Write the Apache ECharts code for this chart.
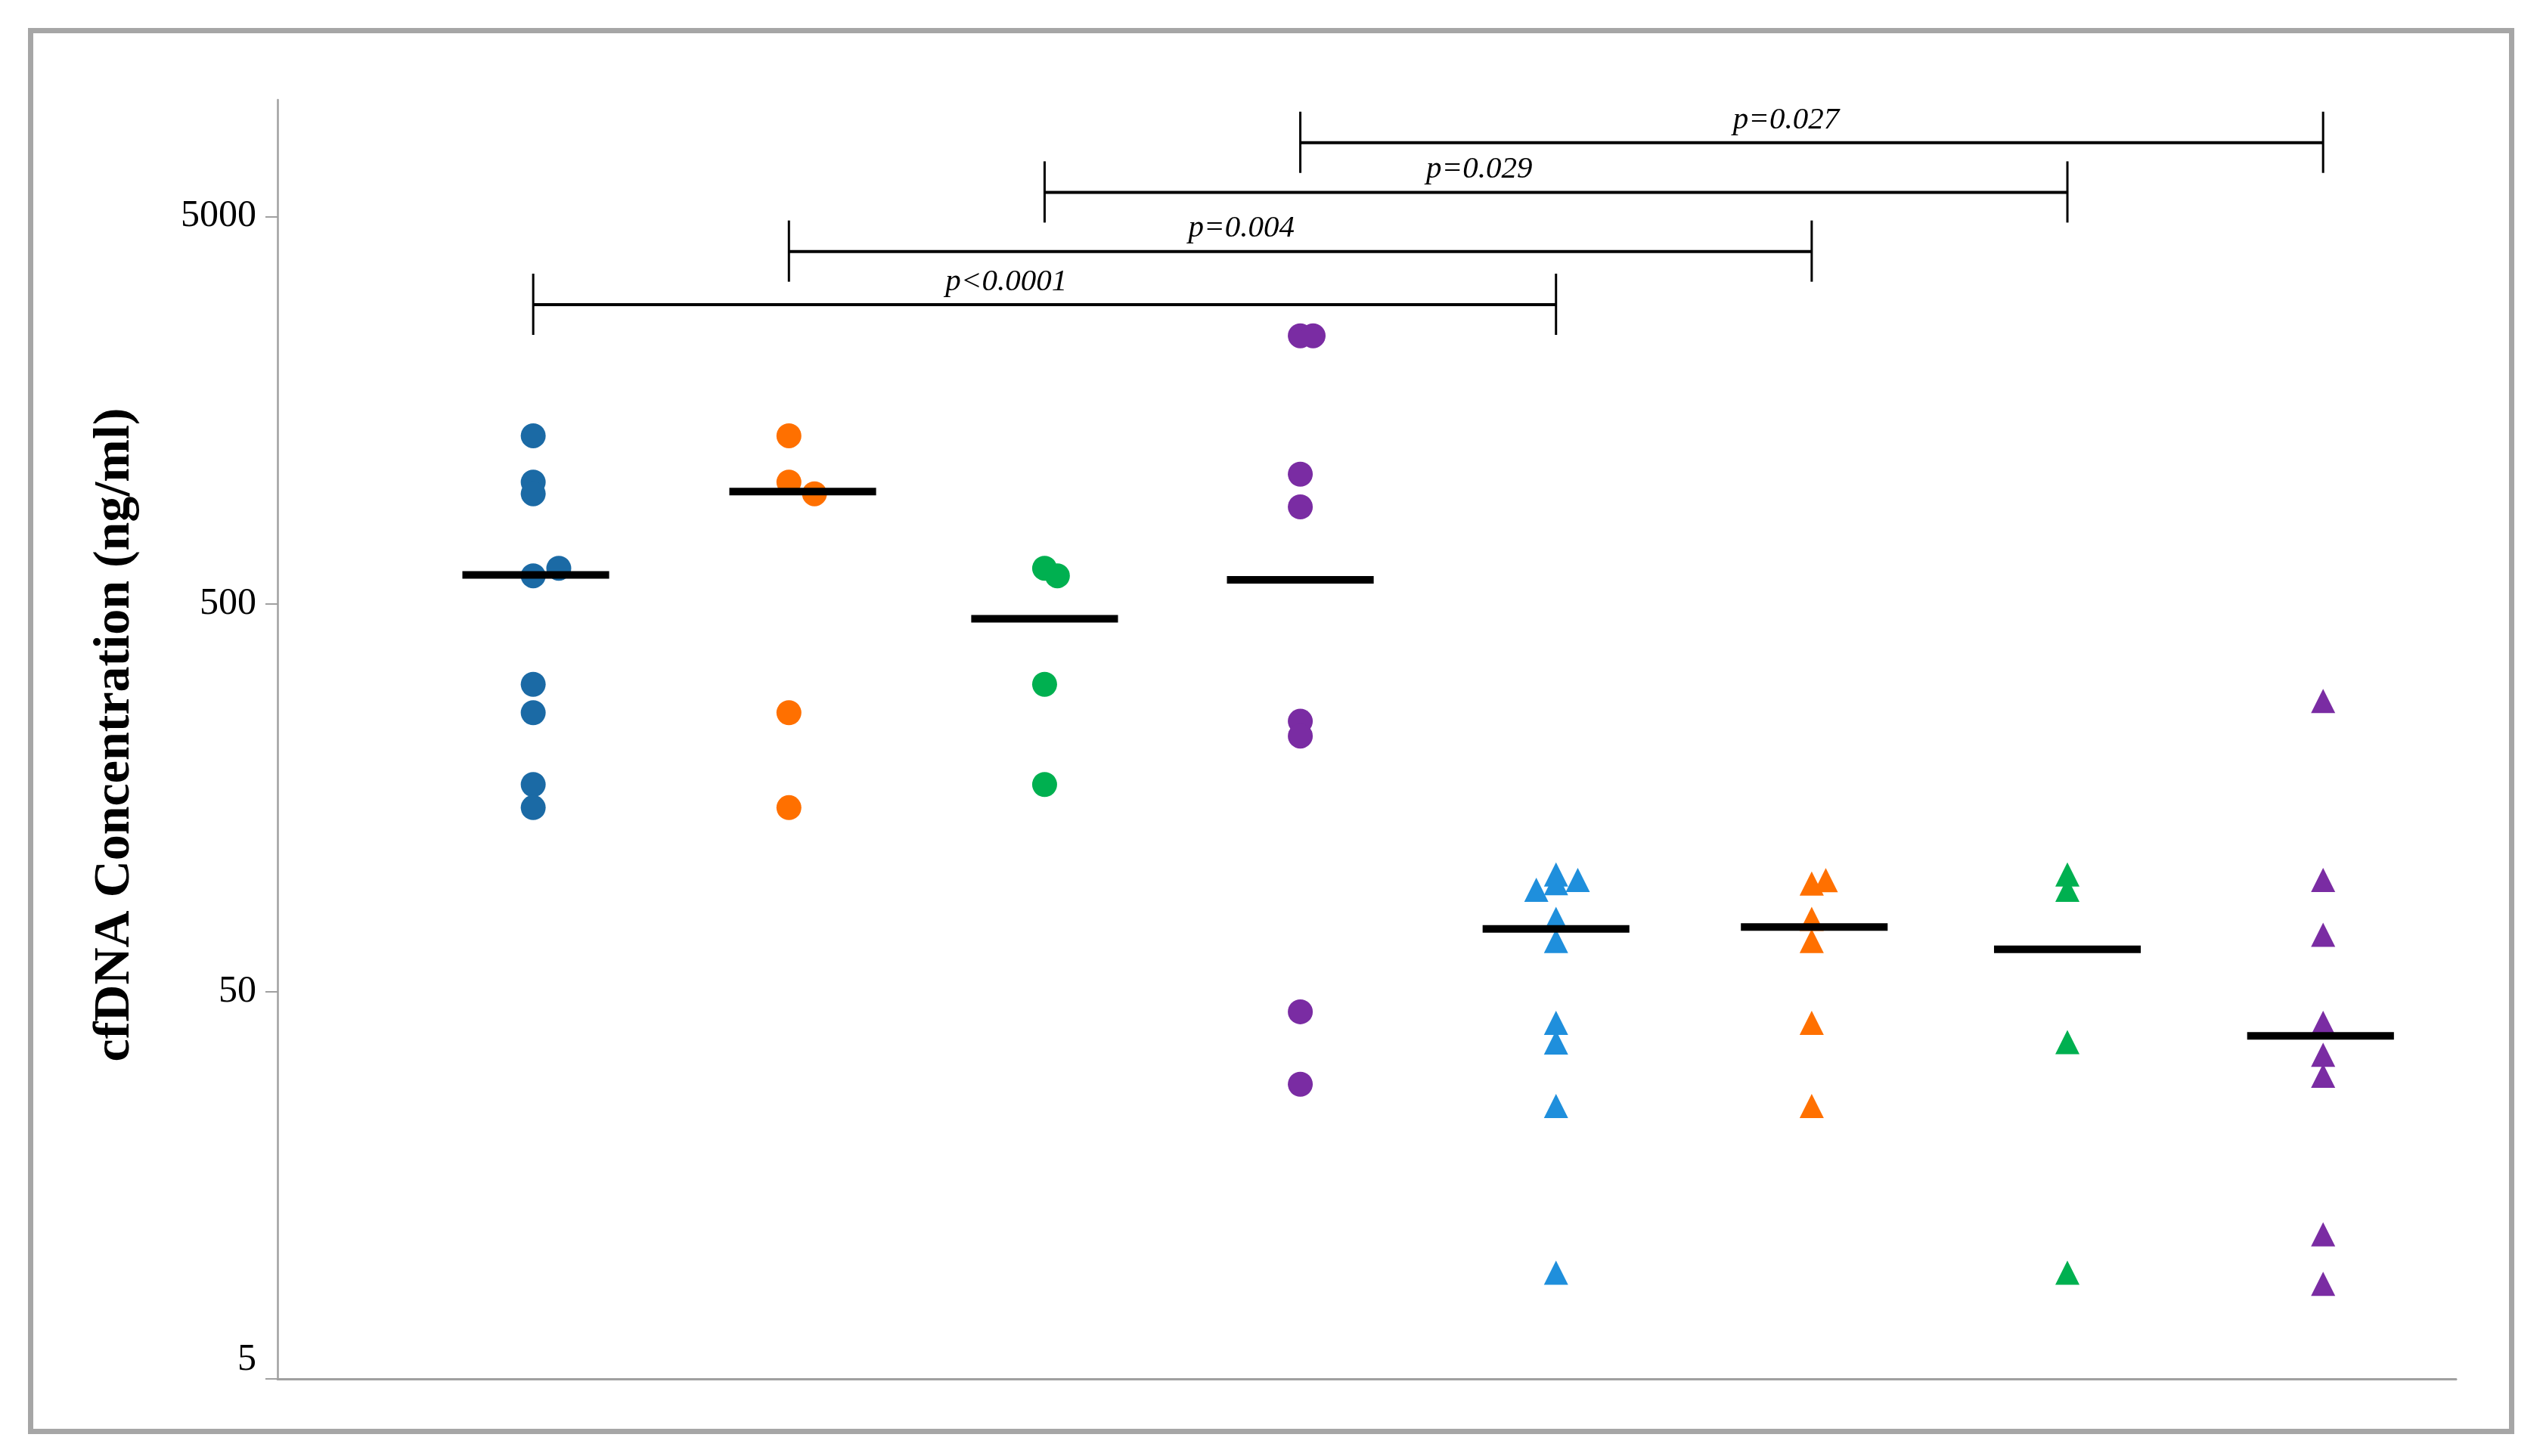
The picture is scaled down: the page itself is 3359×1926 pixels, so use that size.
<!DOCTYPE html>
<html>
<head>
<meta charset="utf-8">
<script src="https://cdn.jsdelivr.net/npm/echarts@6/dist/echarts.min.js"></script>
<style>
html,body{margin:0;padding:0;background:#ffffff;}
#chart{width:3359px;height:1926px;}
</style>
</head>
<body>
<div id="chart"></div>
<script>
// ---------- data ----------
const groupNames = ['Group 1', 'Group 2', 'Group 3', 'Group 4', 'Group 5', 'Group 6', 'Group 7', 'Group 8'];
const groupSymbols = ['circle', 'circle', 'circle', 'circle', 'triangle', 'triangle', 'triangle', 'triangle'];
const groupColors = ['#1b6aa5', '#ff7000', '#00b050', '#7a2ca3', '#1f8fdc', '#ff7000', '#00b050', '#7a2ca3'];

const g1Values = [1358, 1031, 962, 591, 618, 310, 262, 171, 149];
const g1Jitter = [0, 0, 0, 0, 0.1, 0, 0, 0, 0];
const g2Values = [1358, 1031, 962, 262, 149];
const g2Jitter = [0, 0, 0.1, 0, 0];
const g3Values = [618, 591, 310, 171];
const g3Jitter = [0, 0.05, 0, 0];
const g4Values = [2460, 2460, 1081, 890, 249, 228, 44.3, 28.8];
const g4Jitter = [0, 0.05, 0, 0, 0, 0, 0, 0];
const g5Values = [100.2, 95.1, 97.0, 91.5, 76.9, 67.5, 41.5, 36.9, 25.3, 9.4];
const g5Jitter = [0, 0, 0.085, -0.077, 0, 0, 0, 0, 0, 0];
const g6Values = [94.9, 96.8, 76.9, 67.5, 41.5, 25.3];
const g6Jitter = [0, 0.055, 0, 0, 0, 0];
const g7Values = [100.2, 91.5, 37.0, 9.4];
const g7Jitter = [0, 0, 0, 0];
const g8Values = [281, 97, 70, 41.5, 34.3, 30.3, 11.8, 8.8];
const g8Jitter = [0, 0, 0, 0, 0, 0, 0, 0];

const medians = [594, 975, 458, 577, 72.5, 73.3, 64.2, 38.4];
const medianJitter = [0.01, 0.054, 0, 0, 0, 0.01, 0, -0.01];

const yTicks = [5, 50, 500, 5000];

// significance brackets: from group, to group, bracket level (ng/ml), label x (group units), label
const bracketFrom = [0, 1, 2, 3];
const bracketTo = [4, 5, 6, 7];
const bracketLevel = [2960, 4060, 5770, 7750];
const bracketLabelX = [1.85, 2.77, 3.70, 4.90];
const bracketLabels = ['p<0.0001', 'p=0.004', 'p=0.029', 'p=0.027'];

const allValues = [g1Values, g2Values, g3Values, g4Values, g5Values, g6Values, g7Values, g8Values];
const allJitter = [g1Jitter, g2Jitter, g3Jitter, g4Jitter, g5Jitter, g6Jitter, g7Jitter, g8Jitter];

// ---------- chart ----------
const chart = echarts.init(document.getElementById('chart'), null, {renderer: 'canvas'});
const FONT = 'Liberation Serif';

const scatterSeries = groupNames.map(function (name, i) {
  return {
    name: name,
    type: 'scatter',
    symbol: groupSymbols[i],
    symbolSize: groupSymbols[i] === 'circle' ? 33 : 32,
    itemStyle: {color: groupColors[i], opacity: 1},
    z: 2,
    data: allValues[i].map(function (v, k) { return [i + allJitter[i][k], v]; })
  };
});

const medianSeries = {
  name: 'Median',
  type: 'custom',
  z: 5,
  data: medians.map(function (m, i) { return [i + medianJitter[i], m]; }),
  renderItem: function (params, api) {
    const x = api.value(0), y = api.value(1);
    const p0 = api.coord([x - 0.287, y]);
    const p1 = api.coord([x + 0.287, y]);
    return {
      type: 'line',
      shape: {x1: p0[0], y1: p0[1], x2: p1[0], y2: p1[1]},
      style: {stroke: '#000000', lineWidth: 10}
    };
  }
};

const bracketSeries = {
  name: 'Significance',
  type: 'custom',
  z: 6,
  clip: false,
  data: bracketFrom.map(function (f, i) { return [f, bracketTo[i], bracketLevel[i], bracketLabelX[i]]; }),
  renderItem: function (params, api) {
    const a = api.coord([api.value(0), api.value(2)]);
    const b = api.coord([api.value(1), api.value(2)]);
    const t = api.coord([api.value(3), api.value(2)]);
    const up = 41, down = 40;
    const ls = {stroke: '#000000', lineWidth: 3};
    return {
      type: 'group',
      children: [
        {type: 'line', shape: {x1: a[0], y1: a[1], x2: b[0], y2: b[1]}, style: {stroke: '#000000', lineWidth: 4}},
        {type: 'line', shape: {x1: a[0], y1: a[1] - up, x2: a[0], y2: a[1] + down}, style: ls},
        {type: 'line', shape: {x1: b[0], y1: b[1] - up, x2: b[0], y2: b[1] + down}, style: ls},
        {type: 'text', x: t[0], y: t[1] - 30,
          style: {text: bracketLabels[params.dataIndex], fill: '#000000', font: 'italic 41px "' + FONT + '"',
            align: 'center', verticalAlign: 'middle'}}
      ]
    };
  }
};

const option = {
  animation: false,
  backgroundColor: '#ffffff',
  grid: {left: 367, right: 111, top: 132, bottom: 102, containLabel: false},
  xAxis: {
    type: 'value',
    min: -1,
    max: 7.52,
    axisLine: {show: true, onZero: false, lineStyle: {color: '#a0a0a0', width: 3}},
    axisTick: {show: false},
    axisLabel: {show: false},
    splitLine: {show: false}
  },
  yAxis: {
    type: 'log',
    logBase: 10,
    min: 5,
    max: 10000,
    axisLine: {show: true, onZero: false, lineStyle: {color: '#a0a0a0', width: 2.5}},
    axisTick: {show: true, length: 16, customValues: yTicks, lineStyle: {color: '#a0a0a0', width: 2}},
    minorTick: {show: false},
    axisLabel: {
      show: true,
      customValues: yTicks,
      margin: 28,
      fontSize: 50,
      fontFamily: FONT,
      color: '#000000',
      verticalAlignMinLabel: 'bottom',
      formatter: function (v) { return String(Math.round(v)); }
    },
    splitLine: {show: false}
  },
  graphic: [
    {
      type: 'rect',
      shape: {x: 40.5, y: 40.5, width: 3281, height: 1853},
      style: {fill: 'none', stroke: '#a6a6a6', lineWidth: 7},
      silent: true
    },
    {
      type: 'text',
      x: 152,
      y: 972,
      rotation: Math.PI / 2,
      style: {
        text: 'cfDNA Concentration (ng/ml)',
        font: 'bold 68px "' + FONT + '"',
        fill: '#000000',
        align: 'center',
        verticalAlign: 'middle'
      },
      silent: true
    }
  ],
  series: scatterSeries.concat([medianSeries, bracketSeries])
};

chart.setOption(option);
</script>
</body>
</html>
